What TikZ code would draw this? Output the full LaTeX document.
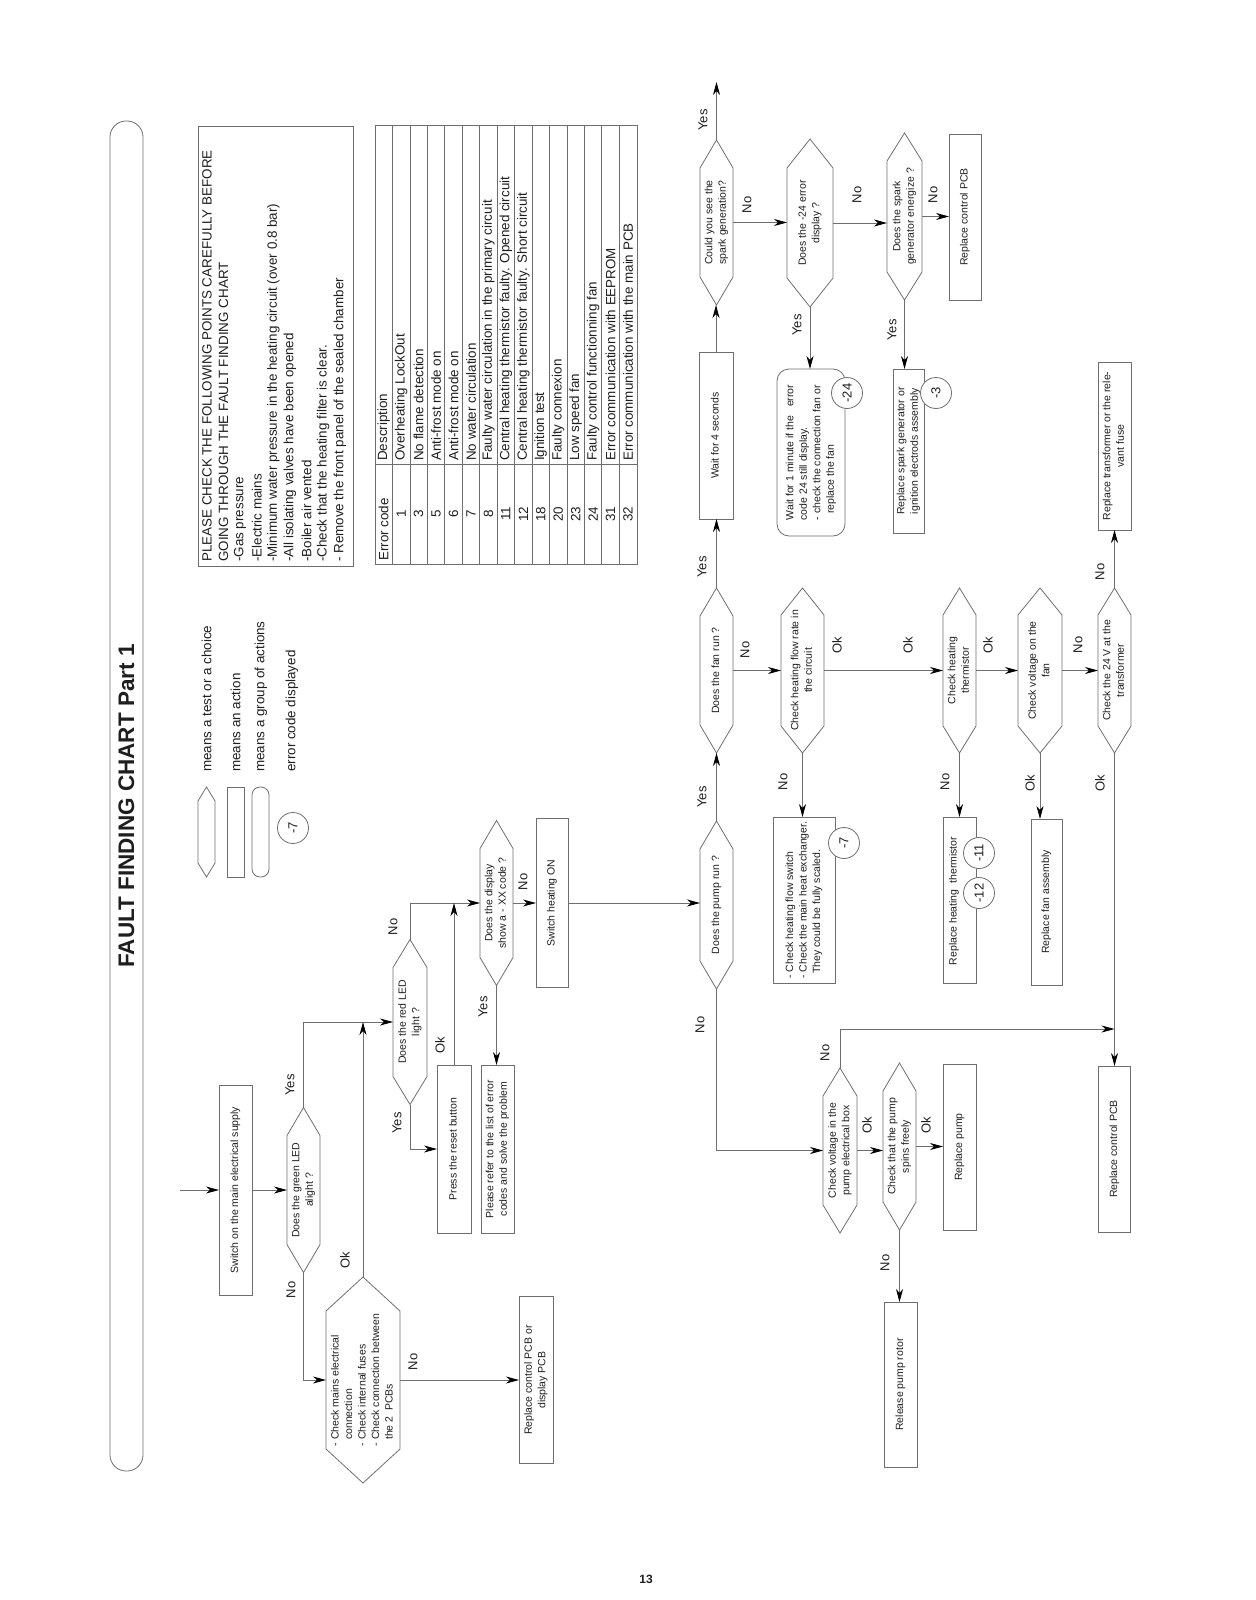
\documentclass[tikz,border=0pt]{standalone}
\usepackage{fontspec}
\setmainfont{Liberation Sans}
\usepackage{graphicx}
\usetikzlibrary{arrows.meta}
\definecolor{ln}{HTML}{6E6E6E}
\definecolor{txt}{HTML}{1E1E1E}
\newcommand\fsn{\fontsize{10.5}{13.5}\selectfont}
\newcommand\fsb{\fontsize{13.4}{16.6}\selectfont}
\newcommand\fsl{\fontsize{13}{15}\selectfont}
\newcommand\rtx[1]{\rotatebox{90}{\begin{tabular}{@{}c@{}}#1\end{tabular}}}
\newcommand\rtlx[1]{\rotatebox{90}{\begin{tabular}{@{}l@{}}#1\end{tabular}}}
\tikzset{
  shapeln/.style={draw=ln, line width=0.8pt},
  actbox/.style={draw=ln, line width=0.8pt, rectangle, inner sep=0pt, outer sep=0pt, font=\fsn, text=txt},
  grpbox/.style={actbox, rounded corners=12pt},
  hexbase/.style={rectangle, inner sep=0pt, outer sep=0pt, font=\fsn, text=txt},
  wire/.style={draw=ln, line width=0.8pt},
  arw/.style={draw=ln, line width=0.8pt, -{Stealth[length=13pt,width=7pt,inset=4pt,color=black]}},
  lbl/.style={font=\fsl, text=txt, rotate=90, inner sep=0pt},
  ecode/.style={circle, draw=ln, line width=0.8pt, fill=white, minimum size=31pt, inner sep=0pt, font=\fsl, text=txt},
  bodytxt/.style={font=\fsb, text=txt, rotate=90, anchor=west, inner sep=0pt},
  celltxt/.style={font=\fsb, text=txt, rotate=90, inner sep=0pt},
}
% name, cx, cy, width, height, point depth, text
\newcommand\hexnode[7]{%
  \node[hexbase, minimum width=#4pt, minimum height=#5pt] (#1) at (#2,#3) {#7};
  \draw[shapeln] (#1.north) -- ([yshift=-#6pt]#1.north east) -- ([yshift=#6pt]#1.south east) -- (#1.south) -- ([yshift=#6pt]#1.south west) -- ([yshift=-#6pt]#1.north west) -- cycle;}
\begin{document}
\begin{tikzpicture}[x=1pt,y=-1pt]
\useasboundingbox (0,0) rectangle (1255,1600);

% title banner
\node[draw=ln, line width=0.8pt, rounded corners=16pt, minimum width=33pt, minimum height=1350pt, inner sep=0pt] (banner) at (126.5,796) {};
\node[rotate=90, font=\fontsize{22.5}{27}\selectfont\bfseries, text=txt] (title) at (126.5,806) {FAULT FINDING CHART Part 1};

% info box
\node[actbox, minimum width=155pt, minimum height=440pt] (info) at (275.5,346) {};
\node[bodytxt] (i1) at (207,562) {PLEASE CHECK THE FOLLOWING POINTS CAREFULLY BEFORE};
\node[bodytxt] (i2) at (223.6,562) {GOING THROUGH THE FAULT FINDING CHART};
\node[bodytxt] (i3) at (240.2,562) {-Gas pressure};
\node[bodytxt] (i4) at (256.8,562) {-Electric mains};
\node[bodytxt] (i5) at (273.4,562) {-Minimum water pressure in the heating circuit (over 0.8 bar)};
\node[bodytxt] (i6) at (290,562) {-All isolating valves have been opened};
\node[bodytxt] (i7) at (306.6,562) {-Boiler air vented};
\node[bodytxt] (i8) at (323.2,562) {-Check that the heating filter is clear.};
\node[bodytxt] (i9) at (339.8,562) {- Remove the front panel of the sealed chamber};

% error table
\node[actbox, minimum width=262pt, minimum height=439pt] (tbl) at (506,344.5) {};
\foreach \k in {1,...,14} \draw[wire] ({375+17.45*\k},125) -- ({375+17.45*\k},564);
\draw[wire] (375,464) -- (637,464);
\node[bodytxt] (hcode) at (383.7,561) {Error code};
\node[bodytxt] (hdesc) at (383.7,461) {Description};
\foreach \c/\d [count=\i] in {1/Overheating LockOut,3/No flame detection,5/Anti-frost mode on,6/Anti-frost mode on,7/No water circulation,8/Faulty water circulation in the primary circuit,11/Central heating thermistor faulty. Opened circuit,12/Central heating thermistor faulty. Short circuit,18/Ignition test,20/Faulty connexion,23/Low speed fan,24/Faulty control functionning fan,31/Error communication with EEPROM,32/Error communication with the main PCB}{
  \node[celltxt] (code\i) at ({375+17.45*(\i+0.5)},514) {\c};
  \node[bodytxt] (desc\i) at ({375+17.45*(\i+0.5)},461) {\d};
}

% legend
\hexnode{lhex}{206.5}{832}{17}{90}{14}{}
\node[actbox, minimum width=17pt, minimum height=90pt] (lrect) at (235.5,832) {};
\node[actbox, rounded corners=8pt, minimum width=17pt, minimum height=90pt] (lround) at (260.5,832) {};
\node[ecode] (lcirc) at (293,828) {\rotatebox{90}{-7}};
\node[bodytxt] (lt1) at (206.5,772) {means a test or a choice};
\node[bodytxt] (lt2) at (235.5,772) {means an action};
\node[bodytxt] (lt3) at (261,772) {means a group of actions};
\node[bodytxt] (lt4) at (292,772) {error code displayed};

% flow nodes
\coordinate (start) at (180,1190);
\node[actbox, minimum width=33pt, minimum height=210pt] (sw) at (235.5,1190) {\rtx{Switch on the main electrical supply}};
\hexnode{green}{303.5}{1190}{33}{165}{28}{\rtx{Does the green LED\\alight ?}}
\hexnode{mains}{363}{1380}{74}{206}{34}{\rtlx{- Check mains electrical\\\phantom{- }connection\\- Check internal fuses\\- Check connection between\\\phantom{- }the 2 \ PCBs}}
\node[actbox, minimum width=34pt, minimum height=167pt] (pcb1) at (536,1380) {\rtx{Replace control PCB or\\display PCB}};
\hexnode{red}{410}{1022}{34}{165}{28}{\rtx{Does the red LED\\light ?}}
\node[actbox, minimum width=34pt, minimum height=168pt] (reset) at (454,1149) {\rtx{Press the reset button}};
\node[actbox, minimum width=33pt, minimum height=168pt] (refer) at (497.5,1149) {\rtx{Please refer to the list of error\\codes and solve the problem}};
\hexnode{disp}{496.5}{903}{33}{165}{28}{\rtx{Does the display\\show a - XX code ?}}
\node[actbox, minimum width=32pt, minimum height=169pt] (heaton) at (552,903) {\rtx{Switch heating ON}};
\hexnode{pump}{716.5}{905}{33}{168}{28}{\rtx{Does the pump run ?}}
\hexnode{fan}{716.5}{670.5}{33}{165}{28}{\rtx{Does the fan run ?}}
\node[actbox, minimum width=34pt, minimum height=167pt] (wait4) at (716,435.5) {\rtx{Wait for 4 seconds}};
\hexnode{spark}{716.5}{222.5}{33}{165}{28}{\rtx{Could you see the\\spark generation?}}
\hexnode{err24}{810}{223}{46}{168}{29}{\rtx{Does the -24 error\\display ?}}
\hexnode{energ}{904.5}{216.5}{35}{167}{28}{\rtx{Does the spark\\generator energize ?}}
\node[actbox, minimum width=32pt, minimum height=166pt] (pcbtop) at (965,217) {\rtx{Replace control PCB}};
\node[grpbox, minimum width=68pt, minimum height=167pt] (wait1) at (811,452.5) {\rtlx{Wait for 1 minute if the \ \ error\\code 24 still display.\\- check the connection fan or\\\phantom{- }replace the fan}};
\node[actbox, minimum width=31pt, minimum height=164pt] (repspark) at (908.5,451) {\rtx{Replace spark generator or\\ignition electrods assembly}};
\hexnode{flow}{802.5}{670.5}{43}{165}{27}{\rtx{Check heating flow rate in\\the circuit}}
\node[actbox, minimum width=62pt, minimum height=166pt] (flowsw) at (804,900) {\rtlx{- Check heating flow switch\\- Check the main heat exchanger.\\\hspace{5pt}They could be fully scaled.}};
\hexnode{therm}{959.5}{670.5}{33}{165}{27}{\rtx{Check heating\\thermistor}}
\node[actbox, minimum width=33pt, minimum height=166pt] (repth) at (959.5,900) {};
\node[hexbase] (repthtxt) at (954,901) {\rtx{Replace heating \ thermistor}};
\hexnode{fanv}{1040}{670.5}{44}{165}{27}{\rtx{Check voltage on the\\fan}}
\node[actbox, minimum width=31pt, minimum height=166pt] (repfan) at (1046.5,902) {\rtx{Replace fan assembly}};
\hexnode{v24}{1114.5}{670.5}{33}{165}{27}{\rtx{Check the 24 V at the\\transformer}}
\node[actbox, minimum width=33pt, minimum height=168pt] (reptr) at (1114.5,446) {\rtx{Replace transformer or the rele-\\vant fuse}};
\node[actbox, minimum width=32pt, minimum height=166pt] (pcbbot) at (1114.5,1149) {\rtx{Replace control PCB}};
\hexnode{pumpv}{840}{1150.5}{34}{165}{28}{\rtx{Check voltage in the\\pump electrical box}}
\hexnode{spins}{899.5}{1146.5}{33}{167}{28}{\rtx{Check that the pump\\spins freely}}
\node[actbox, minimum width=33pt, minimum height=166pt] (reppump) at (959.5,1147) {\rtx{Replace pump}};
\node[actbox, minimum width=33pt, minimum height=165pt] (release) at (900.5,1384.5) {\rtx{Release pump rotor}};

% error code circles
\node[ecode] (c24) at (847,393) {\rotatebox{90}{-24}};
\node[ecode] (c3) at (936,393) {\rotatebox{90}{-3}};
\node[ecode] (c7) at (844,843) {\rotatebox{90}{-7}};
\node[ecode] (c11) at (979,853) {\rotatebox{90}{-11}};
\node[ecode] (c12) at (979,893) {\rotatebox{90}{-12}};

% connectors
\coordinate (out) at (716.5,82);
\coordinate (jn) at (1114.5,1029);
\draw[arw] (start) -- (sw);
\draw[arw] (sw) -- (green);
\draw[arw] (green.north) |- (red.west);
\draw[arw] (green.south) |- (mains.west);
\draw[arw] (mains.north) -- (mains.north |- red.west);
\draw[arw] (mains.east) -- (mains.east -| pcb1.west);
\draw[arw] (red.south) |- (reset.west);
\draw[arw] (red.north) |- (disp.west);
\draw[arw] (reset.north) -- (reset.north |- disp.west);
\draw[arw] (disp.east) -- (disp.east -| heaton.west);
\draw[arw] (disp.south) -- (disp.south |- refer.north);
\draw[arw] (heaton.east) -- (heaton.east -| pump.west);
\draw[arw] (pump.north) -- (pump.north |- fan.south);
\draw[arw] (fan.north) -- (fan.north |- wait4.south);
\draw[arw] (wait4.north) -- (wait4.north |- spark.south);
\draw[arw] (spark.north) -- (out);
\draw[arw] (spark.east) -- (spark.east -| err24.west);
\draw[arw] (err24.east) -- (err24.east -| energ.west);
\draw[arw] (energ.east) -- (energ.east -| pcbtop.west);
\draw[arw] (err24.south) -- (err24.south |- wait1.north);
\draw[arw] (energ.south) -- (energ.south |- repspark.north);
\draw[arw] (fan.east) -- (fan.east -| flow.west);
\draw[arw] (flow.south) -- (flow.south |- flowsw.north);
\draw[arw] (flow.east) -- (flow.east -| therm.west);
\draw[arw] (therm.south) -- (therm.south |- repth.north);
\draw[arw] (therm.east) -- (therm.east -| fanv.west);
\draw[arw] (fanv.south) -- (fanv.south |- repfan.north);
\draw[arw] (fanv.east) -- (fanv.east -| v24.west);
\draw[arw] (v24.north) -- (v24.north |- reptr.south);
\draw[arw] (v24.south) -- (v24.south |- pcbbot.north);
\draw[arw] (pump.south) |- (pumpv.west);
\draw[arw] (pumpv.north) |- (jn);
\draw[arw] (pumpv.east) -- (pumpv.east -| spins.west);
\draw[arw] (spins.east) -- (spins.east -| reppump.west);
\draw[arw] (spins.south) -- (spins.south |- release.north);

% connector labels
\node[lbl] (l1) at (290,1085) {Yes};
\node[lbl] (l2) at (291,1290) {No};
\node[lbl] (l3) at (345,1260) {Ok};
\node[lbl] (l4) at (413,1362) {No};
\node[lbl] (l5) at (397,1123) {Yes};
\node[lbl] (l6) at (393,927) {No};
\node[lbl] (l7) at (440,1045) {Ok};
\node[lbl] (l8) at (523,882) {No};
\node[lbl] (l9) at (483,1007) {Yes};
\node[lbl] (l10) at (702,797) {Yes};
\node[lbl] (l11) at (700,1025) {No};
\node[lbl] (l12) at (702,567) {Yes};
\node[lbl] (l13) at (745,650) {No};
\node[lbl] (l14) at (703,120) {Yes};
\node[lbl] (l15) at (747,205) {No};
\node[lbl] (l16) at (857,195) {No};
\node[lbl] (l17) at (797,325) {Yes};
\node[lbl] (l18) at (933,195) {No};
\node[lbl] (l19) at (892,330) {Yes};
\node[lbl] (l20) at (783,782) {No};
\node[lbl] (l21) at (837,645) {Ok};
\node[lbl] (l22) at (908,645) {Ok};
\node[lbl] (l23) at (945,782) {No};
\node[lbl] (l24) at (988,645) {Ok};
\node[lbl] (l25) at (1030,783) {Ok};
\node[lbl] (l26) at (1078,645) {No};
\node[lbl] (l27) at (1100,572) {No};
\node[lbl] (l28) at (1100,783) {Ok};
\node[lbl] (l29) at (825,1053) {No};
\node[lbl] (l30) at (867,1125) {Ok};
\node[lbl] (l31) at (926,1125) {Ok};
\node[lbl] (l32) at (885,1263) {No};

% page number
\node[font=\fontsize{12}{14}\selectfont\bfseries, text=txt] (pg) at (646,1579) {13};
\end{tikzpicture}
\end{document}
